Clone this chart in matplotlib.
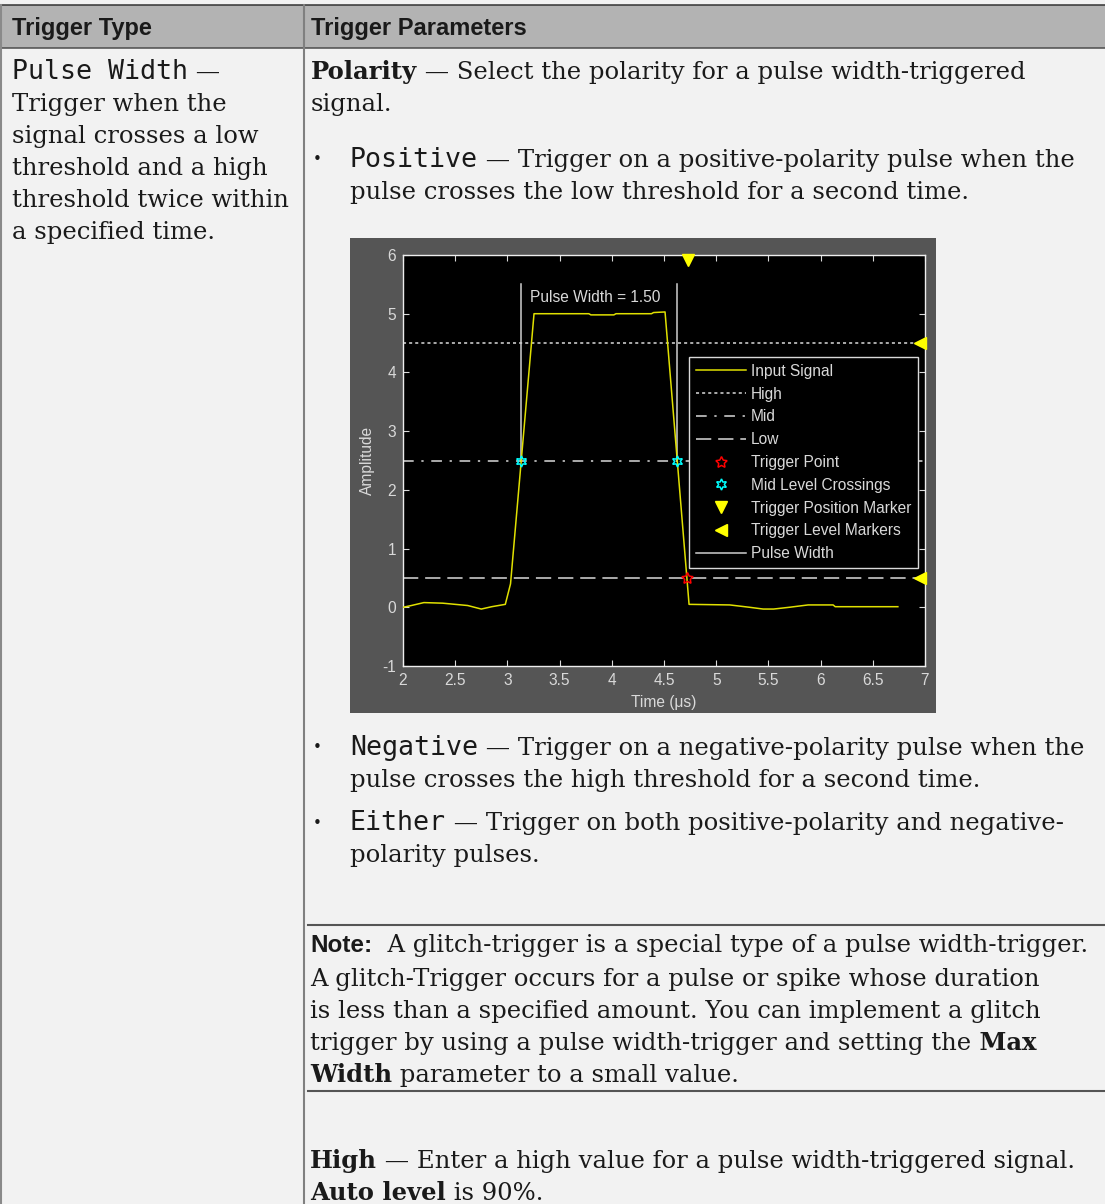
import matplotlib
matplotlib.use("Agg")
import matplotlib.pyplot as plt
from matplotlib.patches import Rectangle

W, H = 1105, 1204

# ---- scope trace (time in us, amplitude) ----
sig_t = [2.0, 2.08, 2.2, 2.38, 2.5, 2.62, 2.75, 2.85, 2.98, 3.03, 3.255, 3.78, 3.8,
         4.02, 4.04, 4.38, 4.4, 4.51, 4.74, 5.13, 5.32, 5.45, 5.55, 5.7, 5.88, 6.12,
         6.14, 6.74]
sig_a = [0.0, 0.03, 0.08, 0.07, 0.05, 0.03, -0.03, 0.01, 0.05, 0.4, 5.0, 5.0, 4.98,
         4.98, 5.0, 5.0, 5.02, 5.03, 0.05, 0.04, 0.0, -0.03, -0.03, 0.0, 0.04, 0.04,
         0.01, 0.01]
lvl_high, lvl_mid, lvl_low = 4.5, 2.5, 0.5
mid_cross_t = [3.13, 4.625]
trig_t = 4.72
trig_pos = (4.73, 5.92)
level_mark_t = 6.95
pw_top = 5.5
pw_label = "Pulse Width = 1.50"
pw_label_at = (3.22, 5.27)
xticks = [2, 2.5, 3, 3.5, 4, 4.5, 5, 5.5, 6, 6.5, 7]
xtick_labels = ["2", "2.5", "3", "3.5", "4", "4.5", "5", "5.5", "6", "6.5", "7"]
yticks = [-1, 0, 1, 2, 3, 4, 5, 6]
ytick_labels = ["-1", "0", "1", "2", "3", "4", "5", "6"]
legend_labels = ["Input Signal", "High", "Mid", "Low", "Trigger Point",
                 "Mid Level Crossings", "Trigger Position Marker",
                 "Trigger Level Markers", "Pulse Width"]

# ---- page text ----
head_left = "Trigger Type"
head_right = "Trigger Parameters"
left_col = [[("Pulse Width", "mono"), (" \u2014", "serif")],
            [("Trigger when the", "serif")],
            [("signal crosses a low", "serif")],
            [("threshold and a high", "serif")],
            [("threshold twice within", "serif")],
            [("a specified time.", "serif")]]
left_y = [70, 102, 134, 166, 198, 230]

right_col = [
    (311, 70, [("Polarity", "bold"), (" \u2014 Select the polarity for a pulse width-triggered", "serif")]),
    (311, 102, [("signal.", "serif")]),
    (350, 158, [("Positive", "mono"), (" \u2014 Trigger on a positive-polarity pulse when the", "serif")]),
    (350, 190, [("pulse crosses the low threshold for a second time.", "serif")]),
    (350, 746, [("Negative", "mono"), (" \u2014 Trigger on a negative-polarity pulse when the", "serif")]),
    (350, 778, [("pulse crosses the high threshold for a second time.", "serif")]),
    (350, 821, [("Either", "mono"), (" \u2014 Trigger on both positive-polarity and negative-", "serif")]),
    (350, 853, [("polarity pulses.", "serif")]),
    (310, 943, [("Note:", "note"), ("  A glitch-trigger is a special type of a pulse width-trigger.", "serif")]),
    (310, 977, [("A glitch-Trigger occurs for a pulse or spike whose duration", "serif")]),
    (310, 1009, [("is less than a specified amount. You can implement a glitch", "serif")]),
    (310, 1041, [("trigger by using a pulse width-trigger and setting the", "serif"), (" Max", "bold")]),
    (310, 1073, [("Width", "bold"), (" parameter to a small value.", "serif")]),
    (310, 1159, [("High", "bold"), (" \u2014 Enter a high value for a pulse width-triggered signal.", "serif")]),
    (310, 1191, [("Auto level", "bold"), (" is 90%.", "serif")]),
]
bullet_y = [158, 746, 821]

INK = "#1a1a1a"
STY = {
    "serif": dict(family="DejaVu Serif", size=17.5),
    "bold": dict(family="DejaVu Serif", size=17.5, weight="bold"),
    "mono": dict(family="DejaVu Sans Mono", size=19.2),
    "note": dict(family="Liberation Sans", size=17.5, weight="bold"),
}

fig = plt.figure(figsize=(W / 100, H / 100), dpi=100)
fig.patch.set_facecolor("#f2f2f2")
bg = fig.add_axes([0, 0, 1, 1])
bg.set_xlim(0, W)
bg.set_ylim(H, 0)
bg.axis("off")
rend = fig.canvas.get_renderer()

# table frame
bg.add_patch(Rectangle((0, 5), W, 43, fc="#b3b3b3", ec="none"))
bg.plot([0, W], [5, 5], color="#333333", lw=1.1)
bg.plot([0, W], [48, 48], color="#4d4d4d", lw=1.1)
bg.plot([1, 1], [5, H], color="#8a8a8a", lw=1.5)
bg.plot([304, 304], [5, H], color="#808080", lw=1.5)
bg.plot([308, W], [925, 925], color="#555555", lw=1.5)
bg.plot([308, W], [1091, 1091], color="#555555", lw=1.5)

bg.text(12, 35, head_left, family="Liberation Sans", weight="bold", size=17, color=INK)
bg.text(311, 35, head_right, family="Liberation Sans", weight="bold", size=17, color=INK)


def rich(x, y, parts):
    for txt, style in parts:
        t = bg.text(x, y, txt, va="baseline", ha="left", color=INK, **STY[style])
        x += t.get_window_extent(rend).width


for y, parts in zip(left_y, left_col):
    rich(12, y + 9, parts)
for x, y, parts in right_col:
    rich(x, y + 9, parts)
for y in bullet_y:
    bg.text(317, y + 2, "\u2022", family="DejaVu Sans", size=11, color=INK,
            ha="center", va="center")

# ---- scope picture ----
bg.add_patch(Rectangle((350, 238), 586, 475, fc="#555555", ec="none"))
cx0, cx1, cy0, cy1 = 403, 925, 255, 666
ax = fig.add_axes([cx0 / W, 1 - cy1 / H, (cx1 - cx0) / W, (cy1 - cy0) / H])
ax.set_facecolor("black")
LG = "#d9d9d9"
YEL = "#e0e000"
CH = dict(family="Liberation Sans", size=11.2)

h_sig, = ax.plot(sig_t, sig_a, color=YEL, lw=1.1, zorder=3)
h_hi = ax.axhline(lvl_high, color=LG, lw=1.1, ls=(0, (2, 2)), zorder=2)
h_mid = ax.axhline(lvl_mid, color=LG, lw=1.1, ls=(0, (7, 5, 1.5, 5)), zorder=2)
h_lo = ax.axhline(lvl_low, color=LG, lw=1.1, ls=(0, (10, 4.5)), zorder=2)
h_tp, = ax.plot([trig_t], [lvl_low], ls="none", marker=(5, 1, 0), ms=8.5,
                mfc="none", mec="red", mew=1.1, zorder=5)
h_mc, = ax.plot(mid_cross_t, [lvl_mid] * len(mid_cross_t), ls="none",
                marker=(6, 1, 0), ms=8, mfc="none", mec="cyan", mew=1.1, zorder=5)
h_pos, = ax.plot([trig_pos[0]], [trig_pos[1]], ls="none", marker="v", ms=9,
                 color="yellow", clip_on=False, zorder=6)
h_lvl, = ax.plot([level_mark_t, level_mark_t], [lvl_high, lvl_low], ls="none",
                 marker="<", ms=9, color="yellow", clip_on=False, zorder=6)
pw_x, pw_y = [], []
for t in mid_cross_t:
    pw_x += [t, t, float("nan")]
    pw_y += [lvl_mid, pw_top, float("nan")]
h_pw, = ax.plot(pw_x, pw_y, color="#cfcfcf", lw=1.1, zorder=2)
ax.text(pw_label_at[0], pw_label_at[1], pw_label, color=LG, va="center", **CH)

ax.set_xlim(2, 7)
ax.set_ylim(-1, 6)
ax.set_xticks(xticks)
ax.set_xticklabels(xtick_labels)
ax.set_yticks(yticks)
ax.set_yticklabels(ytick_labels)
ax.tick_params(direction="in", top=True, right=True, colors=LG, length=4.5,
               width=0.8, labelsize=11.2, pad=5)
for lab in ax.get_xticklabels() + ax.get_yticklabels():
    lab.set_family("Liberation Sans")
for s in ax.spines.values():
    s.set_color("#eeeeee")
    s.set_linewidth(1)
ax.set_xlabel("Time (\u03bcs)", color=LG, labelpad=5, **CH)
ax.set_ylabel("Amplitude", color=LG, labelpad=5, **CH)

leg = ax.legend([h_sig, h_hi, h_mid, h_lo, h_tp, h_mc, h_pos, h_lvl, h_pw],
                legend_labels, loc="upper right", bbox_to_anchor=(0.9866, 0.752),
                facecolor="black", edgecolor=LG, framealpha=1, fancybox=False,
                prop=CH, labelcolor=LG, handlelength=3.2, handletextpad=0.3,
                labelspacing=0.5, borderpad=0.45, borderaxespad=0)
leg.get_frame().set_linewidth(1)

fig.savefig("out.png", dpi=100, facecolor=fig.get_facecolor())
